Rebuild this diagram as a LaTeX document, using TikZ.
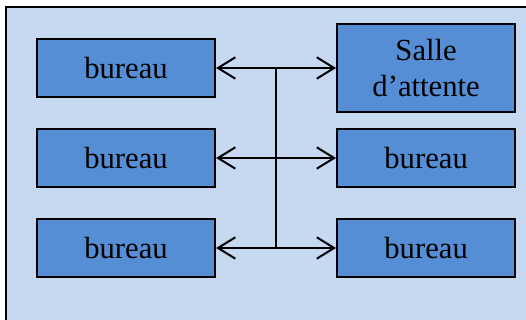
\documentclass[tikz,border=0pt]{standalone}
\usepackage{fontspec}
\setmainfont{Liberation Serif}
\usepackage{xcolor}
\usetikzlibrary{arrows.meta, positioning, calc}
\definecolor{framebg}{RGB}{198,217,241}
\definecolor{boxblue}{RGB}{85,142,213}
\tikzstyle{room}    = [rectangle, minimum width=133.5pt, minimum height=44pt,
                        text centered, align=center, inner sep=0pt,
                        draw=black, line width=1.6pt, fill=boxblue,
                        font=\fontsize{23}{27}\selectfont]
\tikzstyle{arrow}   = [line width=1.5pt,
                        {Straight Barb[length=13pt,width=16pt]}-{Straight Barb[length=13pt,width=16pt]}]

\begin{document}
\begin{tikzpicture}[x=0.75pt, y=-0.75pt, node distance=21.9pt and 90pt]

\useasboundingbox (0,0) rectangle (526,320);
\draw [fill=framebg, line width=1.5pt] (6,7) rectangle (560,360);

\node (b1)    [room] at (126,68)     {bureau};
\node (b2)    [room, below=of b1]    {bureau};
\node (b3)    [room, below=of b2]    {bureau};
\node (salle) [room, right=of b1, minimum height=66pt] {Salle\\d’attente};
\node (b4)    [room, right=of b2]    {bureau};
\node (b5)    [room, right=of b3]    {bureau};

\coordinate (top) at ($(b1.east)!0.5!(salle.west)$);
\coordinate (bot) at ($(b3.east)!0.5!(b5.west)$);

\draw [arrow] (b1) -- (salle);
\draw [arrow] (b2) -- (b4);
\draw [arrow] (b3) -- (b5);
\draw [line width=1.5pt] (top) -- (bot);

\end{tikzpicture}
\end{document}
